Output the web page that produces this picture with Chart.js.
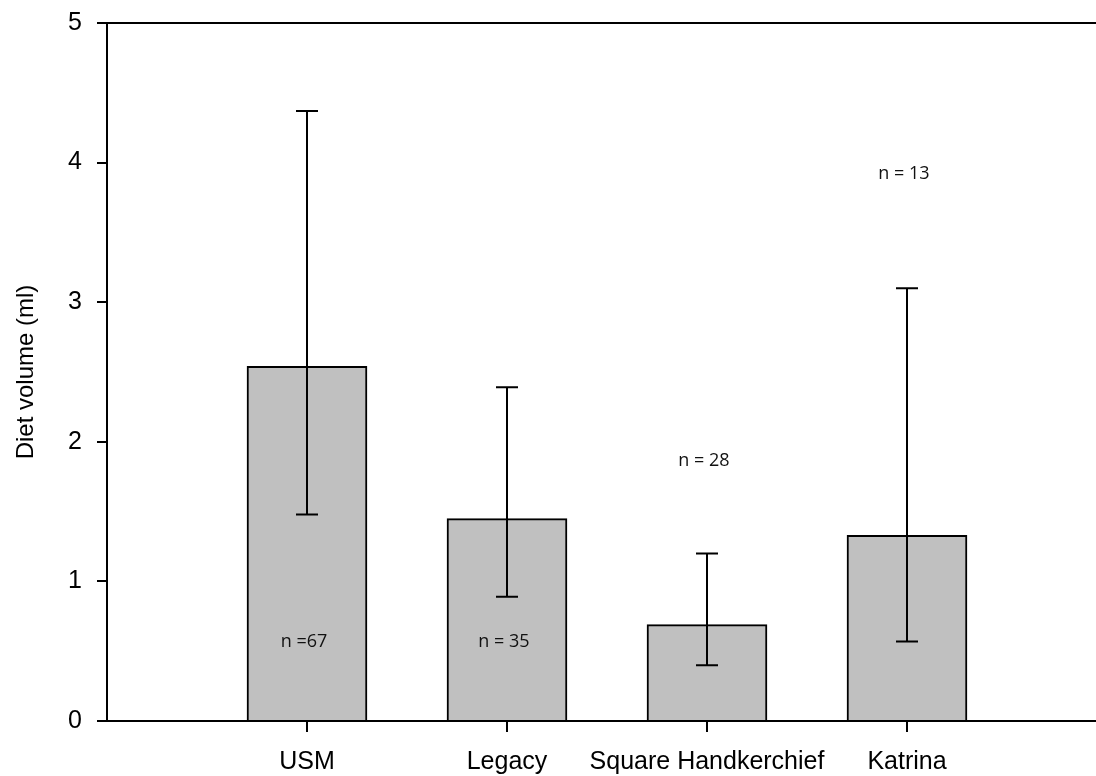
<!DOCTYPE html>
<html><head><meta charset="utf-8">
<script src="https://cdn.jsdelivr.net/npm/chart.js@4.4.0/dist/chart.umd.min.js"></script>
<style>html,body{margin:0;padding:0;background:#fff;} #wrap{width:1096px;height:776px;}</style>
</head><body><div id="wrap"><canvas id="c" width="1096" height="776"></canvas></div>
<script>
const categories = ['USM', 'Legacy', 'Square Handkerchief', 'Katrina'];
const positions = [1, 2, 3, 4];
const means = [2.54, 1.45, 0.69, 1.33];
const upperErr = [4.37, 2.39, 1.20, 3.10];
const lowerErr = [1.48, 0.89, 0.40, 0.57];
const nLabels = ['n =67', 'n = 35', 'n = 28', 'n = 13'];
const nLabelY = [0.57, 0.57, 1.86, 3.92];
const yTicks = [0, 1, 2, 3, 4, 5];

const errorBars = {
  id: 'errorBars',
  afterDatasetsDraw(chart) {
    const ctx = chart.ctx, xs = chart.scales.x, ys = chart.scales.y;
    ctx.save();
    ctx.strokeStyle = '#000';
    ctx.lineWidth = 2;
    positions.forEach((p, i) => {
      const x = Math.round(xs.getPixelForValue(p));
      const yu = ys.getPixelForValue(upperErr[i]);
      const yl = ys.getPixelForValue(lowerErr[i]);
      ctx.beginPath();
      ctx.moveTo(x, yu); ctx.lineTo(x, yl);
      ctx.moveTo(x - 11, yu); ctx.lineTo(x + 11, yu);
      ctx.moveTo(x - 11, yl); ctx.lineTo(x + 11, yl);
      ctx.stroke();
    });
    ctx.fillStyle = '#111';
    ctx.font = '18px "Open Sans", sans-serif';
    ctx.textAlign = 'center';
    ctx.textBaseline = 'middle';
    positions.forEach((p, i) => {
      ctx.fillText(nLabels[i], xs.getPixelForValue(p) - 3, ys.getPixelForValue(nLabelY[i]));
    });
    ctx.restore();
  },
  afterDraw(chart) {
    const ctx = chart.ctx, a = chart.chartArea;
    ctx.save();
    ctx.strokeStyle = '#000';
    ctx.lineWidth = 2;
    ctx.beginPath();
    ctx.moveTo(a.left, Math.round(a.top));
    ctx.lineTo(a.right, Math.round(a.top));
    ctx.stroke();
    ctx.restore();
  }
};

new Chart(document.getElementById('c'), {
  type: 'bar',
  data: {
    datasets: [{
      data: positions.map((p, i) => ({ x: p, y: means[i] })),
      backgroundColor: '#c0c0c0',
      borderColor: '#000',
      borderWidth: 2,
      barThickness: 120
    }]
  },
  options: {
    responsive: false,
    animation: false,
    layout: { padding: { top: 23, right: 0, left: 0, bottom: 0 } },
    plugins: { legend: { display: false }, tooltip: { enabled: false } },
    scales: {
      x: {
        type: 'linear',
        min: 0,
        max: 4.945,
        offset: false,
        afterBuildTicks(scale) { scale.ticks = positions.map(v => ({ value: v })); },
        afterFit(scale) { scale.height = 55; scale.paddingLeft = 0; scale.paddingRight = 0; },
        ticks: {
          autoSkip: false,
          maxRotation: 0,
          padding: 15,
          color: '#000',
          font: { family: '"Liberation Sans", Arial, sans-serif', size: 25 },
          callback: (v) => categories[positions.indexOf(v)]
        },
        grid: { offset: false, drawOnChartArea: false, drawTicks: true, tickLength: 11, color: '#000', lineWidth: 2 },
        border: { display: true, color: '#000', width: 2 }
      },
      y: {
        min: 0,
        max: 5,
        afterBuildTicks(scale) { scale.ticks = yTicks.map(v => ({ value: v })); },
        afterFit(scale) { scale.width = 107; scale.paddingTop = 0; scale.paddingBottom = 0; },
        ticks: {
          padding: 15,
          color: '#000',
          font: { family: '"Liberation Sans", Arial, sans-serif', size: 25 }
        },
        grid: { drawOnChartArea: false, drawTicks: true, tickLength: 10, color: '#000', lineWidth: 2 },
        border: { display: true, color: '#000', width: 2 },
        title: {
          display: true,
          text: 'Diet volume (ml)',
          color: '#000',
          font: { family: '"Liberation Sans", Arial, sans-serif', size: 24 },
          padding: { top: 12, bottom: 0 }
        }
      }
    }
  },
  plugins: [errorBars]
});
</script>
</body></html>
